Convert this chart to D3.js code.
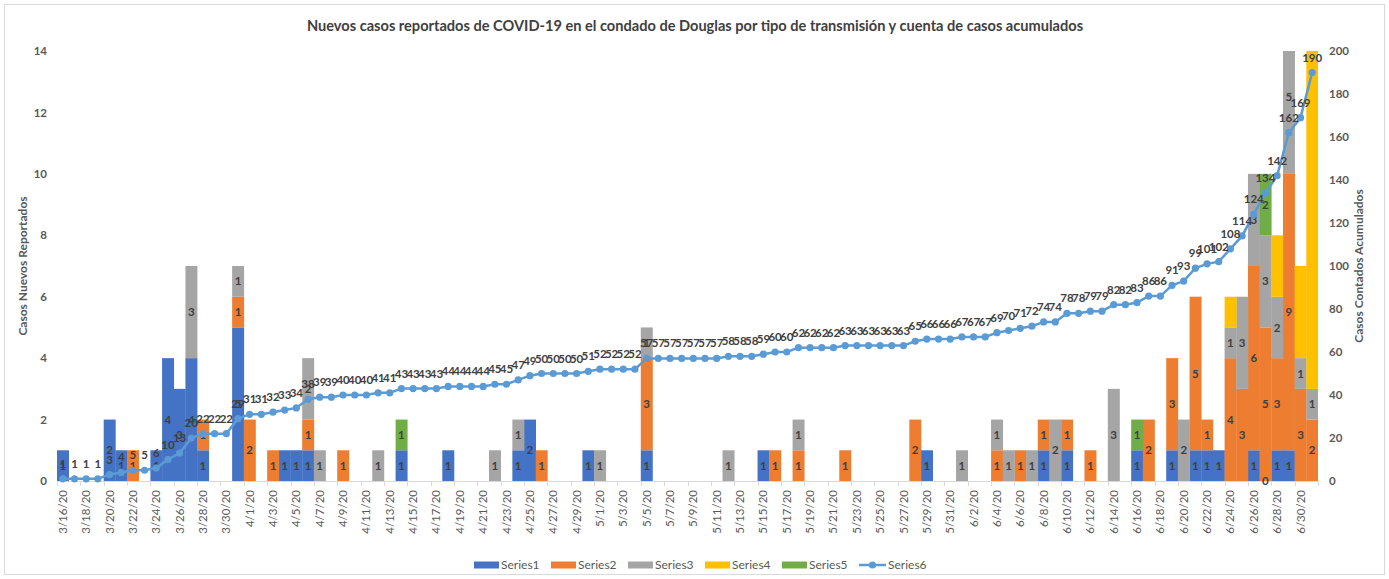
<!DOCTYPE html>
<html>
<head>
<meta charset="utf-8">
<script src="https://cdn.jsdelivr.net/npm/d3@7"></script>
<style>
  html, body { margin: 0; padding: 0; background: #fff; }
  svg { display: block; font-family: Lato, "Open Sans", sans-serif; }
</style>
</head>
<body>
<svg id="chart" width="1389" height="579"></svg>
<script>
// ---------- DATA ----------
const categories = [
  "3/16/20","3/17/20","3/18/20","3/19/20","3/20/20","3/21/20","3/22/20","3/23/20","3/24/20","3/25/20",
  "3/26/20","3/27/20","3/28/20","3/29/20","3/30/20","3/31/20",
  "4/1/20","4/2/20","4/3/20","4/4/20","4/5/20","4/6/20","4/7/20","4/8/20","4/9/20","4/10/20",
  "4/11/20","4/12/20","4/13/20","4/14/20","4/15/20","4/16/20","4/17/20","4/18/20","4/19/20","4/20/20",
  "4/21/20","4/22/20","4/23/20","4/24/20","4/25/20","4/26/20","4/27/20","4/28/20","4/29/20","4/30/20",
  "5/1/20","5/2/20","5/3/20","5/4/20","5/5/20","5/6/20","5/7/20","5/8/20","5/9/20","5/10/20",
  "5/11/20","5/12/20","5/13/20","5/14/20","5/15/20","5/16/20","5/17/20","5/18/20","5/19/20","5/20/20",
  "5/21/20","5/22/20","5/23/20","5/24/20","5/25/20","5/26/20","5/27/20","5/28/20","5/29/20","5/30/20","5/31/20",
  "6/1/20","6/2/20","6/3/20","6/4/20","6/5/20","6/6/20","6/7/20","6/8/20","6/9/20","6/10/20",
  "6/11/20","6/12/20","6/13/20","6/14/20","6/15/20","6/16/20","6/17/20","6/18/20","6/19/20","6/20/20",
  "6/21/20","6/22/20","6/23/20","6/24/20","6/25/20","6/26/20","6/27/20","6/28/20","6/29/20","6/30/20",
  "7/1/20"
];
const _ = null;
// Series1 (blue)
const series1 = [
  1,_,_,_,2,1,_,_,1,4, 3,4,1,_,_,5, _,_,_,1,1,1,_,_,_,_, _,_,_,1,_,_,_,1,_,_, _,_,_,1,2,_,_,_,_,1,
  _,_,_,_,1,_,_,_,_,_, _,_,_,_,1,_,_,_,_,_, _,_,_,_,_,_,_,_,1,_,_,
  _,_,_,_,_,_,_,1,_,1, _,_,_,_,_,1,_,_,1,_, 1,1,1,_,_,1,0,1,1,_, _
];
// Series2 (orange)
const series2 = [
  _,_,_,_,_,_,1,_,_,_, _,_,1,_,_,1, 2,_,1,_,_,1,_,_,1,_, _,_,_,_,_,_,_,_,_,_, _,_,_,_,_,1,_,_,_,_,
  _,_,_,_,3,_,_,_,_,_, _,_,_,_,_,1,_,1,_,_, _,1,_,_,_,_,_,2,_,_,_,
  _,_,_,1,_,1,_,1,_,1, _,1,_,_,_,_,2,_,3,_, 5,1,_,4,3,6,5,3,9,3, 2
];
// Series3 (gray)
const series3 = [
  _,_,_,_,_,_,_,_,_,_, _,3,_,_,_,1, _,_,_,_,_,2,1,_,_,_, _,1,_,_,_,_,_,_,_,_, _,1,_,1,_,_,_,_,_,_,
  1,_,_,_,1,_,_,_,_,_, _,1,_,_,_,_,_,1,_,_, _,_,_,_,_,_,_,_,_,_,_,
  1,_,_,1,1,_,1,_,2,_, _,_,_,3,_,_,_,_,_,2, _,_,_,1,3,3,3,2,5,1, 1
];
// Series4 (yellow)
const series4 = [
  _,_,_,_,_,_,_,_,_,_, _,_,_,_,_,_, _,_,_,_,_,_,_,_,_,_, _,_,_,_,_,_,_,_,_,_, _,_,_,_,_,_,_,_,_,_,
  _,_,_,_,_,_,_,_,_,_, _,_,_,_,_,_,_,_,_,_, _,_,_,_,_,_,_,_,_,_,_,
  _,_,_,_,_,_,_,_,_,_, _,_,_,_,_,_,_,_,_,_, _,_,_,1,_,_,_,2,5,3, 18
];
// Series5 (green)
const series5 = [
  _,_,_,_,_,_,_,_,_,_, _,_,_,_,_,_, _,_,_,_,_,_,_,_,_,_, _,_,_,1,_,_,_,_,_,_, _,_,_,_,_,_,_,_,_,_,
  _,_,_,_,_,_,_,_,_,_, _,_,_,_,_,_,_,_,_,_, _,_,_,_,_,_,_,_,_,_,_,
  _,_,_,_,_,_,_,_,_,_, _,_,_,_,_,1,_,_,_,_, _,_,_,_,_,_,2,_,_,_, _
];
// Series6 (cumulative, right axis)
const series6 = [
  1,1,1,1,3,4,5,5,6,10, 13,20,22,22,22,29,
  31,31,32,33,34,38,39,39,40,40, 40,41,41,43,43,43,43,44,44,44, 44,45,45,47,49,50,50,50,50,51,
  52,52,52,52,57,57,57,57,57,57, 57,58,58,58,59,60,60,62,62,62, 62,63,63,63,63,63,63,65,66,66,66,
  67,67,67,69,70,71,72,74,74,78, 78,79,79,82,82,83,86,86,91,93, 99,101,102,108,114,124,134,142,162,169,
  190
];
const seriesNames = ["Series1","Series2","Series3","Series4","Series5","Series6"];
const colors = ["#4472C4","#ED7D31","#A5A5A5","#FFC000","#70AD47","#5B9BD5"];
const leftTicks = [0,2,4,6,8,10,12,14];
const rightTicks = [0,20,40,60,80,100,120,140,160,180,200];
const showLabels = [true,true,true,false,true];

// ---------- LAYOUT ----------
const svg = d3.select("#chart");
const W = 1389, H = 579;
const plot = {left: 57, right: 1318, top: 51, bottom: 481};
const textDark = "#404040", axisGray = "#595959", lineGray = "#D9D9D9";

svg.append("rect").attr("x",4.5).attr("y",4.5).attr("width",W-9).attr("height",H-9)
  .attr("fill","#fff").attr("stroke",lineGray);

const x = d3.scaleBand().domain(d3.range(categories.length)).range([plot.left, plot.right]).padding(0);
const yL = d3.scaleLinear().domain([0,14]).range([plot.bottom, plot.top]);
const yR = d3.scaleLinear().domain([0,200]).range([plot.bottom, plot.top]);

svg.append("defs").append("clipPath").attr("id","clip")
  .append("rect").attr("x",plot.left).attr("y",plot.top)
  .attr("width",plot.right-plot.left).attr("height",plot.bottom-plot.top);

// title
svg.append("text").attr("x",695).attr("y",31).attr("text-anchor","middle")
  .attr("font-size",14.6).attr("font-weight","bold").attr("fill",textDark)
  .text("Nuevos casos reportados de COVID-19 en el condado de Douglas por tipo de transmisión y cuenta de casos acumulados");

// stacked bars
const barSeries = [series1,series2,series3,series4,series5];
const rows = categories.map((c,i) => {
  const r = {i};
  barSeries.forEach((s,k) => r["s"+k] = s[i] == null ? 0 : s[i]);
  return r;
});
const stack = d3.stack().keys(barSeries.map((s,k)=>"s"+k));
const stacked = stack(rows);

const barsG = svg.append("g").attr("clip-path","url(#clip)");
stacked.forEach((layer,k) => {
  barsG.append("g").attr("fill",colors[k]).selectAll("rect")
    .data(layer.filter(d => barSeries[k][d.data.i] != null && barSeries[k][d.data.i] > 0))
    .join("rect")
    .attr("x", d => x(d.data.i))
    .attr("width", x.bandwidth()+0.3)
    .attr("y", d => yL(d[1]))
    .attr("height", d => yL(d[0]) - yL(d[1]));
});

// x axis line and ticks
svg.append("line").attr("x1",plot.left).attr("x2",plot.right).attr("y1",plot.bottom+0.5).attr("y2",plot.bottom+0.5)
  .attr("stroke",lineGray).attr("stroke-width",1);
const evenIdx = d3.range(0, categories.length, 2);
const xAxis = d3.axisBottom(x).tickValues(evenIdx).tickFormat(i => categories[i]).tickSize(0);
const xg = svg.append("g").attr("transform",`translate(0,${plot.bottom})`).call(xAxis);
xg.select(".domain").remove();
xg.selectAll("text").attr("transform","rotate(-90)").attr("text-anchor","end")
  .attr("x",-9).attr("y",0).attr("dy","0.35em")
  .attr("font-size",11.5).attr("fill",axisGray).attr("font-family","Lato, sans-serif");
svg.append("g").selectAll("line").data(d3.range(0, categories.length+1, 2)).join("line")
  .attr("x1", i => Math.round(plot.left + i*x.step())+0.5)
  .attr("x2", i => Math.round(plot.left + i*x.step())+0.5)
  .attr("y1", plot.bottom).attr("y2", plot.bottom+5)
  .attr("stroke", lineGray);

// left axis
const yAxisL = d3.axisLeft(yL).tickValues(leftTicks).tickSize(0).tickPadding(10);
const lg = svg.append("g").attr("transform",`translate(${plot.left},0)`).call(yAxisL);
lg.select(".domain").remove();
lg.selectAll("text").attr("font-size",11.5).attr("font-weight","bold").attr("fill",axisGray).attr("font-family","Lato, sans-serif");

// right axis
const yAxisR = d3.axisRight(yR).tickValues(rightTicks).tickSize(0).tickPadding(11);
const rg = svg.append("g").attr("transform",`translate(${plot.right},0)`).call(yAxisR);
rg.select(".domain").remove();
rg.selectAll("text").attr("font-size",11.5).attr("font-weight","bold").attr("fill",axisGray).attr("font-family","Lato, sans-serif");

// axis titles
svg.append("text").attr("transform",`translate(27,${(plot.top+plot.bottom)/2}) rotate(-90)`)
  .attr("text-anchor","middle").attr("font-size",12).attr("font-weight","bold").attr("fill",axisGray)
  .text("Casos Nuevos Reportados");
svg.append("text").attr("transform",`translate(1363,${(plot.top+plot.bottom)/2}) rotate(-90)`)
  .attr("text-anchor","middle").attr("font-size",12).attr("font-weight","bold").attr("fill",axisGray)
  .text("Casos Contados Acumulados");

// bar labels
const labG = svg.append("g").attr("font-size",11.5).attr("font-weight","bold").attr("fill",textDark)
  .attr("text-anchor","middle");
stacked.forEach((layer,k) => {
  if (!showLabels[k]) return;
  layer.forEach(d => {
    const v = barSeries[k][d.data.i];
    if (v == null) return;
    const mid = (d[0]+d[1])/2;
    if (mid > 14) return;
    labG.append("text").attr("x", x(d.data.i) + x.bandwidth()/2)
      .attr("y", yL(mid)).attr("dy","0.36em").text(v);
  });
});

// cumulative line
const cx = i => x(i) + x.bandwidth()/2;
svg.append("path").datum(series6)
  .attr("fill","none").attr("stroke",colors[5]).attr("stroke-width",2.5)
  .attr("d", d3.line().x((d,i)=>cx(i)).y(d=>yR(d)));
svg.append("g").attr("fill",colors[5]).selectAll("circle").data(series6).join("circle")
  .attr("cx",(d,i)=>cx(i)).attr("cy",d=>yR(d)).attr("r",3.6);
svg.append("g").attr("font-size",11.5).attr("font-weight","bold").attr("fill",textDark)
  .attr("text-anchor","middle")
  .selectAll("text").data(series6).join("text")
  .attr("x",(d,i)=>cx(i)).attr("y",d=>yR(d)-11).text(d=>d);

// legend
const legendY = 565;
const legendX = [474, 551, 628, 705, 782, 859];
const lgd = svg.append("g");
seriesNames.forEach((n,k) => {
  const g = lgd.append("g").attr("transform",`translate(${legendX[k]},${legendY})`);
  if (k < 5) {
    g.append("rect").attr("x",0).attr("y",-3.5).attr("width",25).attr("height",7).attr("fill",colors[k]);
  } else {
    g.append("line").attr("x1",0).attr("x2",27).attr("y1",0).attr("y2",0).attr("stroke",colors[5]).attr("stroke-width",2.5);
    g.append("circle").attr("cx",13.5).attr("cy",0).attr("r",3.6).attr("fill",colors[5]);
  }
  g.append("text").attr("x", k<5 ? 27 : 29).attr("y",0).attr("dy","0.35em")
    .attr("font-size",12).attr("fill",axisGray).text(n);
});
</script>
</body>
</html>
